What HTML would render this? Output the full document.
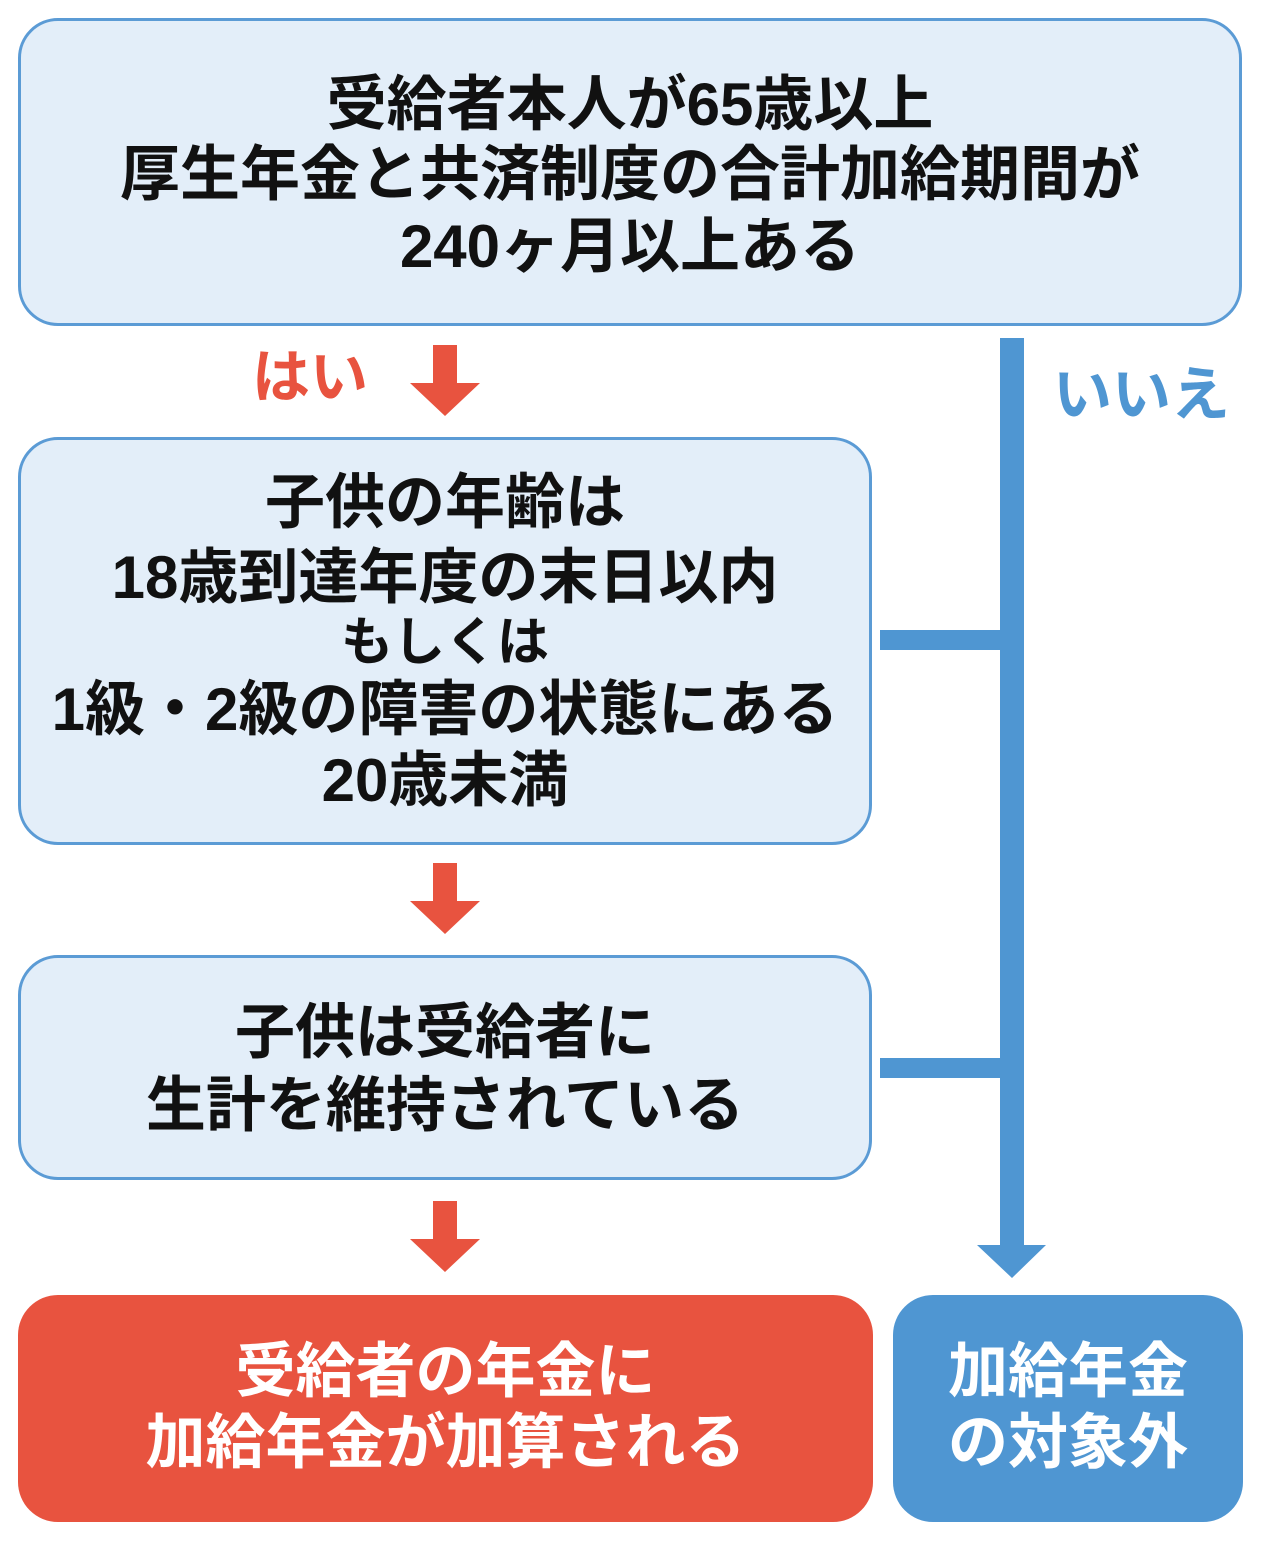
<!DOCTYPE html>
<html><head><meta charset="utf-8"><style>
body{margin:0;width:1262px;height:1556px;background:#fff;position:relative;overflow:hidden;font-family:"Liberation Sans","Noto Sans CJK JP",sans-serif;font-weight:bold}
.box{position:absolute;box-sizing:border-box;border-radius:40px}
.lb{background:#e3eef9;border:3px solid #5b9bd5}
.t{position:absolute;left:0;right:0;text-align:center;font-size:60px;line-height:1;white-space:nowrap;color:#111;transform:translateY(-50%)}
.w{color:#fff}
</style></head><body>
<div class="box lb" style="left:18px;top:18px;width:1224px;height:308px">
<div class="t" style="top:84px">受給者本人が65歳以上</div>
<div class="t" style="top:154px">厚生年金と共済制度の合計加給期間が</div>
<div class="t" style="top:226px">240ヶ月以上ある</div>
</div>
<div class="box lb" style="left:18px;top:437px;width:854px;height:408px">
<div class="t" style="top:63px">子供の年齢は</div>
<div class="t" style="top:138px">18歳到達年度の末日以内</div>
<div class="t" style="top:203px;font-size:52px">もしくは</div>
<div class="t" style="top:270px">1級・2級の障害の状態にある</div>
<div class="t" style="top:341px">20歳未満</div>
</div>
<div class="box lb" style="left:18px;top:955px;width:854px;height:225px">
<div class="t" style="top:75px">子供は受給者に</div>
<div class="t" style="top:148px">生計を維持されている</div>
</div>
<div class="box" style="left:18px;top:1295px;width:855px;height:227px;background:#e8533f">
<div class="t w" style="top:77px">受給者の年金に</div>
<div class="t w" style="top:148px">加給年金が加算される</div>
</div>
<div class="box" style="left:893px;top:1295px;width:350px;height:227px;background:#4f96d2">
<div class="t w" style="top:77px">加給年金</div>
<div class="t w" style="top:148px">の対象外</div>
</div>
<div style="position:absolute;left:252px;top:349px;font-size:58px;color:#e8533f;line-height:1">はい</div>
<div style="position:absolute;left:1053px;top:366px;font-size:59px;color:#4f96d2;line-height:1">いいえ</div>
<svg width="1262" height="1556" style="position:absolute;left:0;top:0">
<g fill="#e8533f">
<polygon points="433,345 457,345 457,383 480,383 445,416 410,383 433,383"/>
<polygon points="433,863 457,863 457,901 480,901 445,934 410,901 433,901"/>
<polygon points="433,1201 457,1201 457,1239 480,1239 445,1272 410,1239 433,1239"/>
</g>
<g fill="#4f96d2">
<polygon points="1000,338 1024,338 1024,1245 1046,1245 1012,1278 977,1245 1000,1245"/>
<rect x="880" y="630" width="130" height="20"/>
<rect x="880" y="1058" width="130" height="20"/>
</g>
</svg>
</body></html>
